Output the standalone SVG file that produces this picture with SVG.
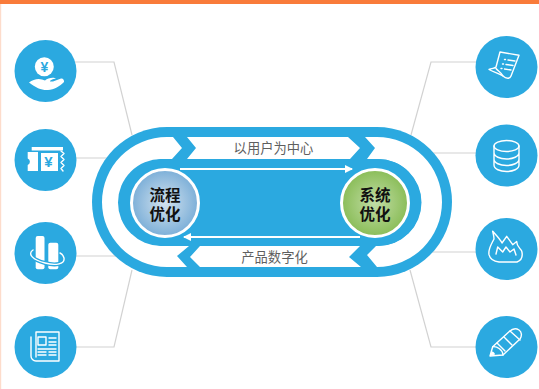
<svg xmlns="http://www.w3.org/2000/svg" width="539" height="389" viewBox="0 0 539 389">
<style>
.disc{fill:#2ba9e0}
.line{fill:none;stroke:#d2d2d2;stroke-width:1.2}
.w{fill:#fff}
.i{fill:none;stroke:#fff;stroke-width:1.4;stroke-linejoin:round;stroke-linecap:round}
.b{fill:#2ba9e0}
.band{font-family:"Liberation Sans","Noto Sans CJK SC",sans-serif;font-size:13.3px;fill:#5f5f5f;text-anchor:middle}
.hub{font-family:"Liberation Sans","Noto Sans CJK SC",sans-serif;font-size:15.5px;font-weight:700;fill:#111;text-anchor:middle}
.yen{font-family:"Liberation Sans",sans-serif;font-weight:700;text-anchor:middle;fill:#2ba9e0}
</style>
<defs>
<radialGradient id="gb" cx="50%" cy="50%" r="50%"><stop offset="0" stop-color="#d3e2ee"/><stop offset="1" stop-color="#7cafd8"/></radialGradient>
<radialGradient id="gg" cx="50%" cy="50%" r="50%"><stop offset="0" stop-color="#c2dda6"/><stop offset="1" stop-color="#8abd58"/></radialGradient>
<marker id="ah" viewBox="0 0 8 8" refX="7" refY="4" markerWidth="8" markerHeight="8" markerUnits="userSpaceOnUse" orient="auto-start-reverse"><path d="M0 0L8 4L0 8z" fill="#fff"/></marker>
</defs>
<rect width="539" height="389" fill="#fff"/>
<rect x="0" y="0" width="1.2" height="389" fill="#fddccb"/>
<rect x="0" y="0" width="539" height="4" fill="#f97b3a"/>
<g id="connectors">
<path class="line" d="M75 62H114L132 135"/>
<path class="line" d="M76 158H110"/>
<path class="line" d="M76 256H122"/>
<path class="line" d="M72 347H114L132 270"/>
<path class="line" d="M476 62H431L411 135"/>
<path class="line" d="M476 153H430"/>
<path class="line" d="M476 252H432"/>
<path class="line" d="M476 347H431L410 270"/>
</g>
<g id="hub">
<rect x="92" y="127" width="360" height="150" rx="75" class="b"/>
<path class="w" d="M173 137L182 148L172 159H161A44 44 0 0 0 161 246H189L177 256L187 267H167A65 65 0 0 1 167 137Z"/>
<path class="w" d="M187 137H348L360 148L350 159H187L196 148Z"/>
<path class="w" d="M200 246H360L349 257L361 267H200L190 257Z"/>
<path class="w" d="M365 137H377A65 65 0 0 1 377 267L367 255L376 246H378A43.5 43.5 0 0 0 378 159H367L375 148Z"/>
<rect x="118" y="159" width="303" height="87" rx="43.500" class="b"/>
<path d="M180 169H352" stroke="#fff" stroke-width="2" fill="none" marker-end="url(#ah)"/>
<path d="M360 237H184" stroke="#fff" stroke-width="2" fill="none" marker-end="url(#ah)"/>
<text class="band" x="273.500" y="153">以用户为中心</text>
<text class="band" x="274.500" y="262">产品数字化</text>
</g>
<g id="node-process">
<circle cx="165" cy="203" r="33.500" fill="url(#gb)" stroke="#fff" stroke-width="3"/>
<text class="hub"><tspan x="165" y="201">流程</tspan><tspan x="165" y="220">优化</tspan></text>
</g>
<g id="node-system">
<circle cx="375" cy="203" r="33.500" fill="url(#gg)" stroke="#fff" stroke-width="3"/>
<text class="hub"><tspan x="375" y="201">系统</tspan><tspan x="375" y="220">优化</tspan></text>
</g>
<g id="icon-money">
<circle class="disc" cx="45.5" cy="71" r="31"/>
<circle class="w" cx="44.300" cy="66.700" r="9.500"/>
<text class="yen" x="44.300" y="71.500" font-size="14">¥</text>
<path class="w" d="M29 82.500C33 79.500 38 78 42 79.500L45 80.500C48 77.500 54 77 56 78.500C53 79 50 80 50 81.500H53L61 78.500C63 78 64.500 80.500 64 82C60 86 54 90 48 90C42 90.500 36 88 29 82.500Z"/>
</g>
<g id="icon-ticket">
<circle class="disc" cx="45.5" cy="160" r="31"/>
<path class="w" d="M27.700 152H38V171H27.700V165A3.500 3.500 0 0 0 27.700 158.500Z"/>
<path class="w" d="M31.700 147H63V150.500H31.700Z"/>
<path class="w" d="M41 153H58V171H41Z"/>
<path class="i" d="M61 151L64 153.500L61 156.500L64 159.500L61 162.500L64 165.500L61 168.500L63 171" stroke-width="1.100"/>
<text class="yen" x="48.500" y="167" font-size="15">¥</text>
</g>
<g id="icon-columns">
<circle class="disc" cx="45.5" cy="253" r="31"/>
<rect class="w" x="35.700" y="236" width="8.800" height="33.300" rx="2"/>
<rect class="w" x="48.300" y="242.700" width="10" height="26.600" rx="2"/>
<path d="M33 250C27 254 33 260 45 263C56 266 65 264 64 258C63.500 256 62 254 60 253" fill="none" stroke="#2ba9e0" stroke-width="4"/>
<path class="i" d="M33 250C27 254 33 260 45 263C56 266 65 264 64 258C63.500 256 62 254 60 253" stroke-width="1.600"/>
</g>
<g id="icon-news">
<circle class="disc" cx="45.5" cy="347" r="31"/>
<path class="i" d="M36 332H59V361H36A5 5 0 0 1 31 356V337M36 332V357"/>
<rect class="i" x="38" y="337" width="8" height="8"/>
<path class="i" d="M49 338H56M49 342H56M49 345H56M38 349H56M38 352H46M49 352H56M38 355H46M49 355H56" stroke-width="1.1"/>
</g>
<g id="icon-document">
<circle class="disc" cx="506.5" cy="67" r="31"/>
<path class="i" d="M500 52L519 55.300L511 76C510 79 506 79 503 76C499 73 493 72 489 69.500C492 68 495 68.500 496 67Z"/>
<path class="i" d="M496 68.500C498 71 501 72 503 76" stroke-width="1.100"/>
<path class="i" d="M504.500 59.500H505.500M508 60L515 61M502.500 64H503.500M506 64.500L513 65.500M501 68.500H502M504.500 69L511 70" stroke-width="1.300"/>
</g>
<g id="icon-database">
<circle class="disc" cx="506.5" cy="155.5" r="31"/>
<ellipse class="i" cx="506.5" cy="146" rx="12.5" ry="5.5"/>
<path class="i" d="M494 146V165C494 169 500 171.500 506.500 171.500S519 169 519 165V146M494 152.500C494 156.500 500 159 506.500 159S519 156.500 519 152.500M494 159C494 163 500 165.500 506.500 165.500S519 163 519 159"/>
</g>
<g id="icon-flame">
<circle class="disc" cx="506.5" cy="249" r="31"/>
<path class="i" d="M492.700 231.300C496 235 500 239 502 243L506.700 236.300L512.700 244.700L516.700 241.500C516.500 246 520 248 521.700 251C523 256 522 260 517 262H499C494 261.500 490 259 489 254.700C488 249 491 245 494 239C494 236 493 233 492.700 231.300Z"/>
<path class="i" d="M496 254L497.700 247L502.700 252L506 247L510 252L514 249L516 255" stroke-width="1"/>
</g>
<g id="icon-pencil">
<circle class="disc" cx="506.5" cy="347" r="31"/>
<path class="i" d="M490 356L492.700 346.700L509.300 331.500C512 329 516 328 519 330C522 332 522 336 520 339L503 355Z"/>
<path class="i" d="M492.700 346.700C497 346 503 350 503 355M510 331L520 340M497 343L505 351M504 337L512 345" stroke-width="1.100"/>
<path class="w" d="M490 356L491.500 351.500C493 351 495 353 495 354.500Z"/>
</g>
</svg>
